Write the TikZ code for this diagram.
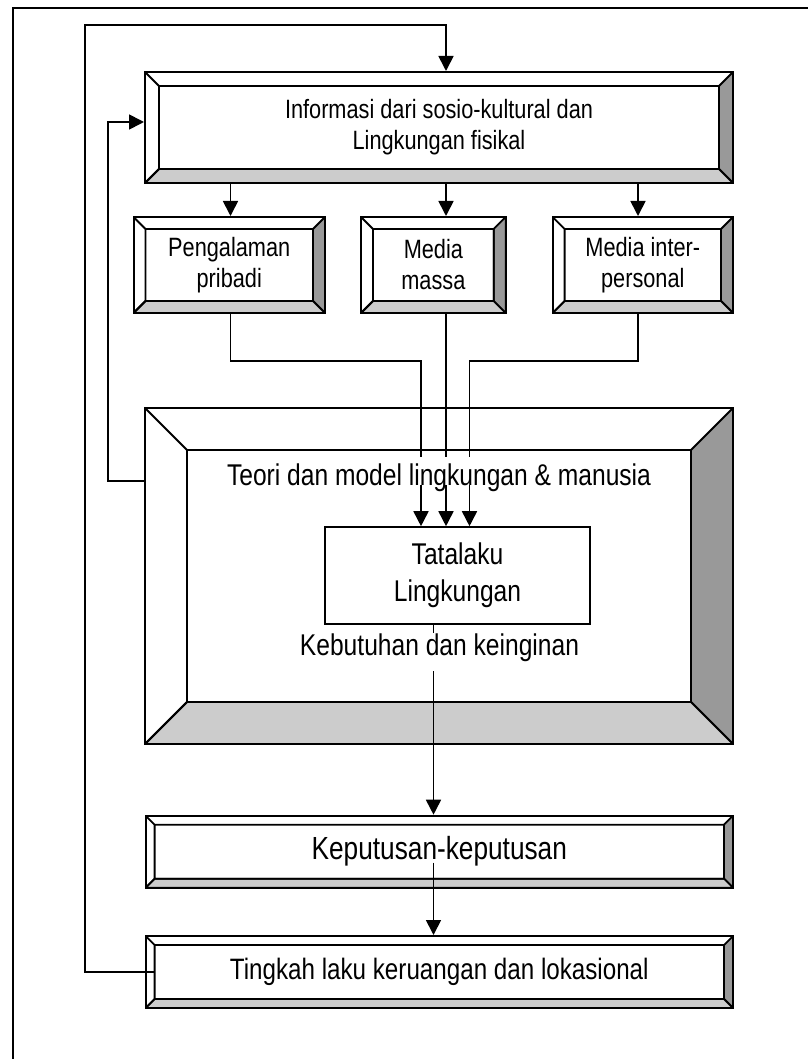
\documentclass[tikz,border=0pt]{standalone}
\usepackage{fontspec}
\setmainfont{Liberation Sans}[FakeStretch=0.82]
\usepackage{tikz}
\definecolor{bevelshade}{RGB}{153, 153, 153}
\definecolor{bevellight}{RGB}{204, 204, 204}
\usetikzlibrary{arrows.meta,positioning,calc}

\begin{document}
\begin{tikzpicture}[x=1pt, y=-1pt,
    bevelbox/.style={draw, fill=white, line width=2pt, inner sep=0pt, align=center,
        path picture={
            \coordinate (pnw) at (path picture bounding box.north west);
            \coordinate (pne) at (path picture bounding box.north east);
            \coordinate (psw) at (path picture bounding box.south west);
            \coordinate (pse) at (path picture bounding box.south east);
            \coordinate (qnw) at ([shift={(#1,-#1)}]pnw);
            \coordinate (qne) at ([shift={(-#1,-#1)}]pne);
            \coordinate (qsw) at ([shift={(#1,#1)}]psw);
            \coordinate (qse) at ([shift={(-#1,#1)}]pse);
            \filldraw[fill=bevelshade, line width=1.8pt] (pne) -- (pse) -- (qse) -- (qne) -- cycle;
            \filldraw[fill=bevellight, line width=1.8pt] (psw) -- (pse) -- (qse) -- (qsw) -- cycle;
            \draw[line width=1.8pt] (pnw) -- (qnw) (psw) -- (qsw) (qnw) rectangle (qse);
        }},
    smalltext/.style={font=\fontsize{26.5}{31}\selectfont},
    bigtext/.style={font=\fontsize{30}{37}\selectfont},
    arr/.style={-{Triangle[length=15pt, width=15pt]}, line width=1.7pt}]

    % Page frame
    \useasboundingbox (0,0) rectangle (807,1059);
    \draw[line width=1.6pt] (13,8) rectangle (830,1080);

    % Columns of the flow
    \coordinate (colA) at (230.5,0);
    \coordinate (colB) at (446,0);
    \coordinate (colC) at (638,0);
    \coordinate (colD) at (433.5,0);
    \coordinate (looptop) at (85,25);

    % Information source
    \node[bevelbox=14pt, smalltext, minimum width=588, minimum height=111]
        (info) at (439, 127.5) {Informasi dari sosio-kultural dan\\Lingkungan fisikal};

    % Channels
    \node[bevelbox=12pt, smalltext, minimum width=191.5, minimum height=96]
        (pribadi) at (229.25, 265) {Pengalaman\\pribadi};
    \node[bevelbox=12pt, smalltext, minimum width=144.7, minimum height=96]
        (massa) at (433.35, 265) {Media\\massa};
    \node[bevelbox=12pt, smalltext, minimum width=180.4, minimum height=96]
        (antar) at (642.8, 265) {Media inter-\\personal};

    % Theory frame and behaviour
    \node[bevelbox=42pt, minimum width=588, minimum height=336] (teori) at (439, 576) {};
    \node[draw, fill=white, line width=1.6pt, bigtext, align=center, minimum width=265, minimum height=97]
        (tatalaku) at (457.5, 575.5) {Tatalaku\\Lingkungan};

    % Decisions and spatial behaviour
    \node[bevelbox=9pt, font=\fontsize{32}{38}\selectfont, minimum width=587.4, minimum height=72]
        (keputusan) at (439.3, 851.7) {Keputusan-keputusan};
    \node[bevelbox=9pt, font=\fontsize{29.5}{35}\selectfont, minimum width=587.4, minimum height=72]
        (tingkah) at (439.3, 972) {Tingkah laku keruangan dan lokasional};

    % Information flow
    \draw[arr] (info.south -| colA) -- (pribadi.north -| colA);
    \draw[arr] (info.south -| colB) -- (massa.north -| colB);
    \draw[arr] (info.south -| colC) -- (antar.north -| colC);

    \draw[arr] (pribadi.south -| colA) -- ++(0,47) -| ([xshift=-36.5pt]tatalaku.north);
    \draw[arr] (massa.south -| colB) -- (tatalaku.north -| colB);
    \draw[arr] (antar.south -| colC) -- ++(0,47) -| ([xshift=12pt]tatalaku.north);

    \draw[arr] (tatalaku.south -| colD) -- (keputusan.north -| colD);
    \draw[arr] ($(keputusan.center -| colD)+(0,11)$) -- (tingkah.north -| colD);

    % Feedback loops
    \draw[arr] ([xshift=9pt]tingkah.west) -| (looptop) -| (info.north -| colB);
    \draw[arr] ([yshift=95pt]teori.west) -- ++(-36,0) |- ([yshift=5.5pt]info.west);

    % Labels in the theory frame
    \node[bigtext, fill=white, inner sep=0pt, text height=28pt, text depth=-15pt, anchor=base]
        (teorilabel) at (439, 485) {Teori dan model lingkungan \& manusia};
    \node[bigtext, fill=white, inner sep=0pt, text height=22pt, text depth=16pt, anchor=base]
        (kebutuhan) at (439.5, 655) {Kebutuhan dan keinginan};
\end{tikzpicture}
\end{document}
